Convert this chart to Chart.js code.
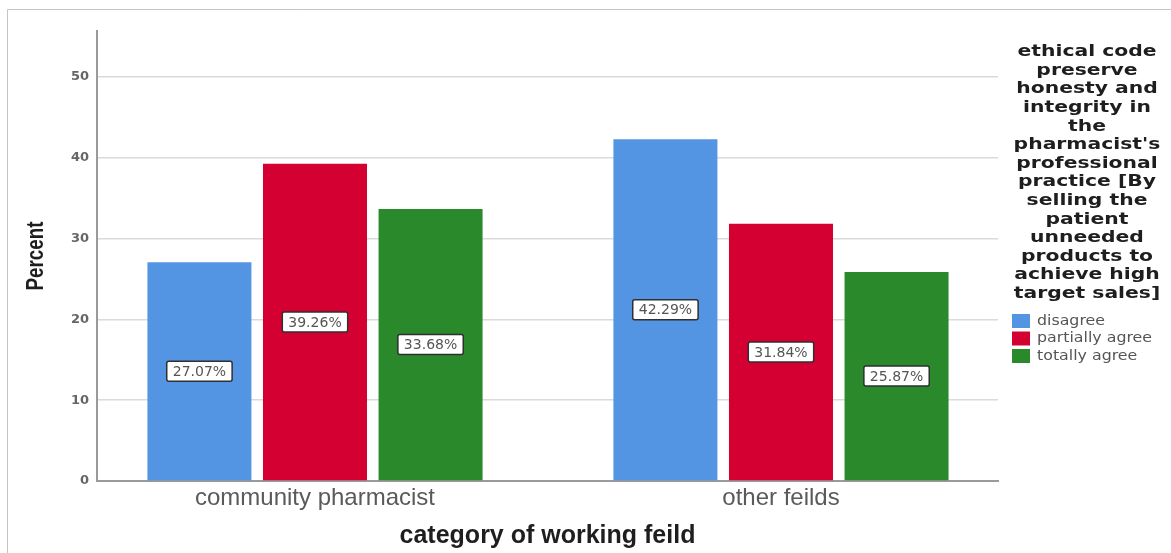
<!DOCTYPE html>
<html>
<head>
<meta charset="utf-8">
<script src="https://cdn.jsdelivr.net/npm/chart.js@4.4.1/dist/chart.umd.min.js"></script>
<style>
  html, body { margin: 0; padding: 0; background: #fff; overflow: hidden; }
  canvas { display: block; }
</style>
</head>
<body>
<canvas id="chart" width="1171" height="553"></canvas>
<script>
// Working field categories and the answer groups
const categories = ['community pharmacist', 'other feilds'];
const responses = ['disagree', 'partially agree', 'totally agree'];

// Percent of respondents per answer, one value per working field
const disagree = [27.07, 42.29];
const partiallyAgree = [39.26, 31.84];
const totallyAgree = [33.68, 25.87];

// Value axis ticks
const yTicks = [0, 10, 20, 30, 40, 50];

// Axis titles
const yTitle = 'Percent';
const xTitle = 'category of working feild';

// Legend heading, broken into lines
const legendTitle = [
  'ethical code', 'preserve', 'honesty and', 'integrity in', 'the',
  "pharmacist's", 'professional', 'practice [By', 'selling the',
  'patient', 'unneeded', 'products to', 'achieve high', 'target sales]'
];

const seriesValues = [disagree, partiallyAgree, totallyAgree];
const seriesColors = ['#5495e3', '#d50032', '#2a8a2b'];

const datasets = seriesValues.map((vals, k) => ({
  label: responses[k],
  data: vals.map((v, i) => ({ x: i, y: v })),
  backgroundColor: seriesColors[k],
  borderWidth: 0,
  categoryPercentage: 0.744,
  barPercentage: 0.9
}));

// White page with the thin grey frame along the top and left edges
const framePlugin = {
  id: 'frame',
  beforeDraw(chart) {
    const ctx = chart.ctx;
    ctx.save();
    ctx.fillStyle = '#fff';
    ctx.fillRect(0, 0, chart.width, chart.height);
    ctx.strokeStyle = '#c4c4c4';
    ctx.lineWidth = 1;
    ctx.beginPath();
    ctx.moveTo(7.5, chart.height);
    ctx.lineTo(7.5, 9.5);
    ctx.lineTo(chart.width, 9.5);
    ctx.stroke();
    ctx.restore();
  }
};

// Condensed, rotated value-axis title centred on the plot height
const yTitlePlugin = {
  id: 'yTitle',
  afterDraw(chart) {
    const ctx = chart.ctx;
    const area = chart.chartArea;
    ctx.save();
    ctx.translate(37, (area.top + area.bottom) / 2);
    ctx.rotate(-Math.PI / 2);
    ctx.scale(0.82, 1);
    ctx.font = 'bold 23px "Liberation Sans", Arial, sans-serif';
    ctx.fillStyle = '#1e1e1e';
    ctx.textAlign = 'center';
    ctx.textBaseline = 'middle';
    ctx.fillText(yTitle, 0, 0);
    ctx.restore();
  }
};

// Boxed percentage labels in the middle of each bar
const valueLabels = {
  id: 'valueLabels',
  afterDatasetsDraw(chart) {
    const ctx = chart.ctx;
    ctx.save();
    ctx.font = '14px "DejaVu Sans", sans-serif';
    ctx.textAlign = 'center';
    ctx.textBaseline = 'middle';
    chart.data.datasets.forEach((ds, k) => {
      chart.getDatasetMeta(k).data.forEach((bar, i) => {
        const text = ds.data[i].y.toFixed(2) + '%';
        const cx = bar.x;
        const cy = (bar.y + bar.base) / 2;
        const w = ctx.measureText(text).width + 12;
        const h = 20;
        ctx.fillStyle = '#fff';
        ctx.strokeStyle = '#2f2f2f';
        ctx.lineWidth = 1.5;
        ctx.beginPath();
        ctx.roundRect(cx - w / 2, cy - h / 2, w, h, 2);
        ctx.fill();
        ctx.stroke();
        ctx.fillStyle = '#555';
        ctx.fillText(text, cx, cy + 1);
      });
    });
    ctx.restore();
  }
};

// Legend on the right: wrapped bold heading, then colour swatches
const sideLegend = {
  id: 'sideLegend',
  afterDraw(chart) {
    const ctx = chart.ctx;
    const cx = 1087;
    ctx.save();
    ctx.textBaseline = 'middle';
    ctx.fillStyle = '#1e1e1e';
    ctx.font = 'bold 16px "DejaVu Sans", sans-serif';
    ctx.textAlign = 'center';
    legendTitle.forEach((line, i) => {
      ctx.save();
      ctx.translate(cx, 52 + i * 18.6);
      ctx.scale(1.27, 1);
      ctx.fillText(line, 0, 0);
      ctx.restore();
    });
    ctx.textAlign = 'left';
    ctx.font = '14px "DejaVu Sans", sans-serif';
    chart.data.datasets.forEach((ds, k) => {
      const y = 321 + k * 17.5;
      ctx.fillStyle = ds.backgroundColor;
      ctx.fillRect(1012, y - 7, 18, 14);
      ctx.fillStyle = '#555';
      ctx.save();
      ctx.translate(1037, y);
      ctx.scale(1.13, 1);
      ctx.fillText(ds.label, 0, 0);
      ctx.restore();
    });
    ctx.restore();
  }
};

new Chart(document.getElementById('chart'), {
  type: 'bar',
  data: { datasets },
  options: {
    responsive: false,
    animation: false,
    layout: { padding: { top: 31, right: 173, bottom: 0, left: 0 } },
    plugins: {
      legend: { display: false },
      tooltip: { enabled: false }
    },
    scales: {
      x: {
        type: 'linear',
        min: -0.4678,
        max: 1.4657,
        offset: false,
        bounds: 'data',
        grid: { display: false, drawTicks: false },
        border: { display: true, color: '#9a9a9a', width: 2 },
        afterBuildTicks(scale) {
          scale.ticks = categories.map((_, i) => ({ value: i }));
        },
        afterFit(scale) { scale.height = 72; },
        ticks: {
          autoSkip: false,
          maxRotation: 0,
          padding: 3,
          color: '#5a5a5a',
          font: { family: '"Liberation Sans", Arial, sans-serif', size: 24 },
          callback: (v) => categories[v] ?? ''
        },
        title: {
          display: true,
          text: xTitle,
          color: '#1e1e1e',
          font: { family: '"Liberation Sans", Arial, sans-serif', size: 25, weight: 'bold' },
          padding: { top: 0, bottom: 2 }
        }
      },
      y: {
        min: 0,
        max: 55.7,
        bounds: 'data',
        afterBuildTicks(scale) {
          scale.ticks = yTicks.map(v => ({ value: v }));
        },
        afterFit(scale) { scale.width = 97; },
        grid: { color: '#dadada', lineWidth: 1.5, drawTicks: false },
        border: { display: true, color: '#9a9a9a', width: 2 },
        ticks: {
          padding: 8,
          color: '#666',
          font: { family: '"DejaVu Sans", sans-serif', size: 13, weight: 'bold' }
        },
        title: { display: false }
      }
    }
  },
  plugins: [framePlugin, valueLabels, sideLegend, yTitlePlugin]
});
</script>
</body>
</html>
